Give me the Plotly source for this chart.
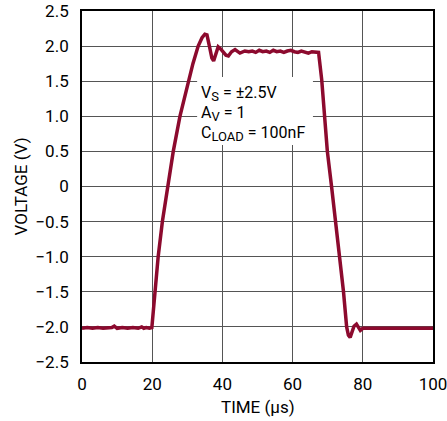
import plotly.graph_objects as go

# Time (µs) and voltage (V)
time_us = [0, 1.5, 3, 4.5, 6, 7.5, 8.5, 9.2, 10, 11.5, 13, 14.5, 16, 17, 17.6, 18.3, 19.2, 19.9,
           20.8, 21.7, 22.9, 24.4, 26.0, 27.9, 30.3, 31.6, 33.1, 34.2, 35.0, 35.6, 36.3, 37.0, 37.5,
           38.2, 38.8, 39.5, 40.3, 41.0, 41.7, 42.6, 43.6, 44.3, 45.0, 46.4, 47.5, 48.5, 49.5, 50.5,
           51.5, 52.5, 53.5, 54.5, 55.5, 56.5, 57.5, 58.5, 59.5, 60.5, 61.5, 62.5, 63.5, 64.5, 65.5,
           66.5, 67.4, 68.3, 69.0, 69.9, 71.1, 72.3, 73.3, 74.5, 75.4, 75.9, 76.4, 76.9, 77.5, 78.2,
           78.8, 79.3, 80, 81.5, 83, 85, 87, 89, 91, 93, 95, 97, 99, 100]
voltage_v = [-2.02, -2.01, -2.02, -2.01, -2.02, -2.02, -2.01, -1.99, -2.02, -2.01, -2.02, -2.01, -2.02, -2.00, -2.02, -2.01, -2.02, -2.01,
             -1.5, -1.0, -0.5, 0.0, 0.5, 1.0, 1.5, 1.75, 2.0, 2.12, 2.17, 2.16, 2.0, 1.83, 1.79,
             1.9, 1.99, 1.96, 1.92, 1.87, 1.86, 1.92, 1.95, 1.92, 1.90, 1.93, 1.92, 1.93, 1.91, 1.94,
             1.92, 1.93, 1.91, 1.94, 1.92, 1.93, 1.91, 1.93, 1.94, 1.92, 1.91, 1.93, 1.92, 1.90, 1.92,
             1.91, 1.91, 1.52, 1.0, 0.5, 0.0, -0.5, -1.0, -1.5, -2.0, -2.12, -2.15, -2.08, -1.99, -1.96,
             -2.02, -2.05, -2.02, -2.02, -2.01, -2.02, -2.01, -2.02, -2.02, -2.01, -2.02, -2.01, -2.02, -2.02]

x_ticks = [0, 20, 40, 60, 80, 100]
x_tick_labels = ["0", "20", "40", "60", "80", "100"]
y_ticks = [2.5, 2.0, 1.5, 1.0, 0.5, 0, -0.5, -1.0, -1.5, -2.0, -2.5]
y_tick_labels = ["2.5", "2.0", "1.5", "1.0", "0.5", "0", "\u22120.5", "\u22121.0", "\u22121.5", "\u22122.0", "\u22122.5"]

FONT = "Roboto, Liberation Sans, sans-serif"
LINE_COLOR = "#8c0a2e"

fig = go.Figure()
fig.add_trace(go.Scatter(x=time_us, y=voltage_v, mode="lines",
                         line=dict(color=LINE_COLOR, width=3.5), showlegend=False))

fig.update_layout(
    width=447, height=421,
    margin=dict(l=82, r=14, t=11, b=59, autoexpand=False),
    paper_bgcolor="white", plot_bgcolor="white",
    font=dict(family=FONT, size=17, color="black"),
)
fig.update_xaxes(range=[0, 100], tickvals=x_ticks, ticktext=x_tick_labels, ticks="",
                 ticklabelstandoff=6, automargin=False, ticklabeloverflow="allow",
                 showgrid=True, gridcolor="#555555", gridwidth=1.3,
                 showline=True, linecolor="black", linewidth=1.8, mirror=True,
                 zeroline=False)
fig.update_yaxes(range=[-2.5, 2.5], tickvals=y_ticks, ticktext=y_tick_labels, ticks="",
                 ticklabelstandoff=8, automargin=False, ticklabeloverflow="allow",
                 showgrid=True, gridcolor="#555555", gridwidth=1.3,
                 showline=True, linecolor="black", linewidth=1.8, mirror=True,
                 zeroline=False)

# axis titles
fig.add_annotation(x=0.5, y=0, xref="paper", yref="paper", yshift=-45, text="TIME (\u00b5s)",
                   showarrow=False, xanchor="center", yanchor="middle", font=dict(size=17))
fig.add_annotation(x=0, y=0.5, xref="paper", yref="paper", xshift=-62, text="VOLTAGE (V)",
                   textangle=-90, showarrow=False, xanchor="center", yanchor="middle",
                   font=dict(size=17))

fig.add_shape(type="rect", xref="x", yref="y", x0=32.8, x1=65.8, y0=0.59, y1=1.56,
              fillcolor="white", line=dict(width=0), layer="between")

notes = ["V<sub><span style='font-size:13px'>S</span></sub> = \u00b12.5V",
         "A<sub><span style='font-size:13px'>V</span></sub> = 1",
         "C<sub><span style='font-size:13px'>LOAD</span></sub> = 100nF"]
note_y = [1.32, 1.04, 0.76]
for txt, yy in zip(notes, note_y):
    fig.add_annotation(x=33.4, y=yy, xref="x", yref="y", text=txt, showarrow=False,
                       xanchor="left", yanchor="middle", font=dict(size=16, family=FONT))

fig.write_html("out.html", config={"displayModeBar": False},
               post_script="document.body.style.margin='0';document.body.style.overflow='hidden';")
